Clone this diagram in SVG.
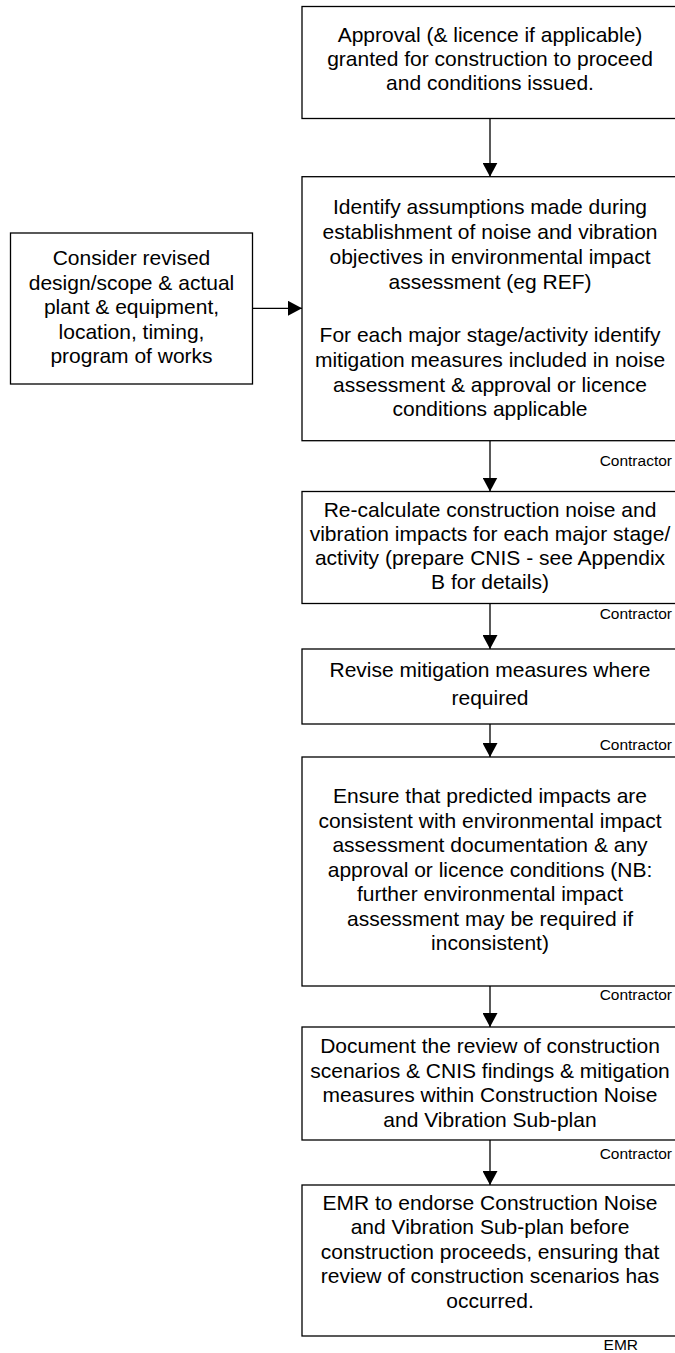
<svg xmlns="http://www.w3.org/2000/svg" width="675" height="1353" viewBox="0 0 675 1353">
<style>
.box{fill:#fff;stroke:#000;stroke-width:1.3}
.t{font-family:"Liberation Sans",Arial,sans-serif;font-size:21px;fill:#000;text-anchor:middle}
.lbl{font-family:"Liberation Sans",Arial,sans-serif;font-size:15.5px;fill:#000;text-anchor:end}
.c{stroke:#000;stroke-width:1.3;fill:none}
</style>
<defs>
<marker id="ah" markerUnits="userSpaceOnUse" markerWidth="14" markerHeight="15" viewBox="0 0 14 15" refX="14" refY="7.5" orient="auto">
<path d="M0,0 L14,7.5 L0,15 z" fill="#000"/>
</marker>
</defs>
<rect width="675" height="1353" fill="#fff"/>
<g id="connectors">
<line class="c" x1="490" y1="118.5" x2="490" y2="176.7" marker-end="url(#ah)"/>
<line class="c" x1="252.5" y1="308.3" x2="302" y2="308.3" marker-end="url(#ah)"/>
<line class="c" x1="490" y1="440.7" x2="490" y2="491.5" marker-end="url(#ah)"/>
<line class="c" x1="490" y1="603.5" x2="490" y2="649" marker-end="url(#ah)"/>
<line class="c" x1="490" y1="724" x2="490" y2="757" marker-end="url(#ah)"/>
<line class="c" x1="490" y1="986" x2="490" y2="1027" marker-end="url(#ah)"/>
<line class="c" x1="490" y1="1140" x2="490" y2="1185" marker-end="url(#ah)"/>
</g>
<g id="n1">
<rect class="box" x="302" y="6.5" width="376" height="112"/>
<text class="t" x="490" y="41.7">Approval (&amp; licence if applicable)</text>
<text class="t" x="490" y="65.7">granted for construction to proceed</text>
<text class="t" x="490" y="89.7">and conditions issued.</text>
</g>
<g id="n0">
<rect class="box" x="10.5" y="233" width="242" height="151"/>
<text class="t" x="131.5" y="265">Consider revised</text>
<text class="t" x="131.5" y="289.5">design/scope &amp; actual</text>
<text class="t" x="131.5" y="314">plant &amp; equipment,</text>
<text class="t" x="131.5" y="338.5">location, timing,</text>
<text class="t" x="131.5" y="363">program of works</text>
</g>
<g id="n2">
<rect class="box" x="302" y="176.7" width="376" height="264"/>
<text class="t" x="490" y="213.5">Identify assumptions made during</text>
<text class="t" x="490" y="238.5">establishment of noise and vibration</text>
<text class="t" x="490" y="263.5">objectives in environmental impact</text>
<text class="t" x="490" y="288.5">assessment (eg REF)</text>
<text class="t" x="490" y="341.5">For each major stage/activity identify</text>
<text class="t" x="490" y="366.5">mitigation measures included in noise</text>
<text class="t" x="490" y="391.5">assessment &amp; approval or licence</text>
<text class="t" x="490" y="416">conditions applicable</text>
</g>
<text class="lbl" x="672" y="466">Contractor</text>
<g id="n3">
<rect class="box" x="302" y="491.5" width="376" height="112"/>
<text class="t" x="490" y="516.7">Re-calculate construction noise and</text>
<text class="t" x="490" y="540.7">vibration impacts for each major stage/</text>
<text class="t" x="490" y="564.7">activity (prepare CNIS - see Appendix</text>
<text class="t" x="490" y="588.7">B for details)</text>
</g>
<text class="lbl" x="672" y="618.5">Contractor</text>
<g id="n4">
<rect class="box" x="302" y="649" width="376" height="75"/>
<text class="t" x="490" y="676.7">Revise mitigation measures where</text>
<text class="t" x="490" y="705">required</text>
</g>
<text class="lbl" x="672" y="750">Contractor</text>
<g id="n5">
<rect class="box" x="302" y="757" width="376" height="229"/>
<text class="t" x="490" y="803.3">Ensure that predicted impacts are</text>
<text class="t" x="490" y="827.8">consistent with environmental impact</text>
<text class="t" x="490" y="852.3">assessment documentation &amp; any</text>
<text class="t" x="490" y="876.8">approval or licence conditions (NB:</text>
<text class="t" x="490" y="901.3">further environmental impact</text>
<text class="t" x="490" y="925.8">assessment may be required if</text>
<text class="t" x="490" y="950.3">inconsistent)</text>
</g>
<text class="lbl" x="672" y="1000">Contractor</text>
<g id="n6">
<rect class="box" x="302" y="1027" width="376" height="113"/>
<text class="t" x="490" y="1053">Document the review of construction</text>
<text class="t" x="490" y="1077.5">scenarios &amp; CNIS findings &amp; mitigation</text>
<text class="t" x="490" y="1102">measures within Construction Noise</text>
<text class="t" x="490" y="1126.5">and Vibration Sub-plan</text>
</g>
<text class="lbl" x="672" y="1158.5">Contractor</text>
<g id="n7">
<rect class="box" x="302" y="1185" width="376" height="151"/>
<text class="t" x="490" y="1209.5">EMR to endorse Construction Noise</text>
<text class="t" x="490" y="1234">and Vibration Sub-plan before</text>
<text class="t" x="490" y="1258.5">construction proceeds, ensuring that</text>
<text class="t" x="490" y="1283">review of construction scenarios has</text>
<text class="t" x="490" y="1307.5">occurred.</text>
</g>
<text class="lbl" x="638" y="1350">EMR</text>
</svg>
